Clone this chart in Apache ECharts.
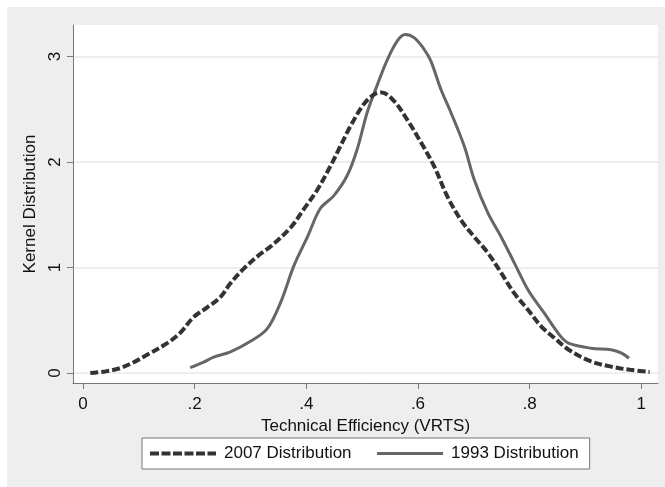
<!DOCTYPE html>
<html><head><meta charset="utf-8">
<script src="https://cdn.jsdelivr.net/npm/echarts@6/dist/echarts.min.js"></script>
<style>html,body{margin:0;padding:0;background:#fff}#c{width:665px;height:487px}</style>
</head><body><div id="c"></div>
<script>
const xTickValues = [0, 0.2, 0.4, 0.6, 0.8, 1];
const xTickLabels = ['0', '.2', '.4', '.6', '.8', '1'];
const yTickValues = [0, 1, 2, 3];
const yTickLabels = ['0', '1', '2', '3'];

const x2007 = [0.013, 0.04, 0.066, 0.09, 0.114, 0.15, 0.174, 0.198, 0.222, 0.246, 0.264, 0.288, 0.318, 0.336, 0.372, 0.395, 0.42, 0.443, 0.461, 0.479, 0.503, 0.521, 0.535, 0.557, 0.581, 0.605, 0.629, 0.653, 0.677, 0.701, 0.725, 0.749, 0.772, 0.797, 0.821, 0.845, 0.87, 0.91, 0.946, 0.98, 1.015];
const y2007 = [0.0, 0.015, 0.045, 0.1, 0.17, 0.28, 0.38, 0.53, 0.62, 0.72, 0.85, 0.99, 1.13, 1.2, 1.38, 1.55, 1.74, 1.96, 2.15, 2.34, 2.55, 2.64, 2.66, 2.58, 2.4, 2.19, 1.96, 1.67, 1.45, 1.29, 1.14, 0.95, 0.76, 0.6, 0.44, 0.33, 0.22, 0.11, 0.06, 0.03, 0.01];
const x1993 = [0.192, 0.215, 0.234, 0.264, 0.3, 0.33, 0.354, 0.378, 0.402, 0.425, 0.449, 0.473, 0.491, 0.509, 0.527, 0.545, 0.563, 0.577, 0.593, 0.611, 0.623, 0.641, 0.659, 0.683, 0.701, 0.725, 0.749, 0.773, 0.797, 0.826, 0.856, 0.871, 0.91, 0.946, 0.964, 0.978];
const y1993 = [0.05, 0.1, 0.15, 0.2, 0.3, 0.42, 0.67, 1.02, 1.29, 1.56, 1.68, 1.87, 2.12, 2.47, 2.73, 2.97, 3.15, 3.21, 3.18, 3.07, 2.96, 2.69, 2.47, 2.15, 1.83, 1.52, 1.29, 1.04, 0.79, 0.57, 0.345, 0.28, 0.235, 0.22, 0.19, 0.14];
const seriesNames = ['2007 Distribution', '1993 Distribution'];

const zip = (xs, ys) => xs.map((x, i) => [x, ys[i]]);
const FONT = 'Liberation Sans, Arial, sans-serif';
const FS = 17;
const dashStyle = {color: '#333333', width: 4, type: [8, 3], cap: 'butt'};
const solidStyle = {color: '#666666', width: 3, type: 'solid'};
const chart = echarts.init(document.getElementById('c'), null, {renderer: 'canvas'});
chart.setOption({
  backgroundColor: '#ffffff',
  animation: false,
  textStyle: {fontFamily: FONT},
  graphic: [{
    type: 'rect', left: 7, top: 7, z: -10, silent: true,
    shape: {width: 658, height: 480},
    style: {fill: '#eeeeee'}
  }],
  grid: {left: 73, top: 25, right: 7, bottom: 104, show: true, backgroundColor: '#ffffff', borderWidth: 0},
  legend: {
    left: 142, top: 438,
    padding: [7, 11, 7, 6],
    backgroundColor: '#ffffff', borderColor: '#777777', borderWidth: 1, borderRadius: 0,
    itemWidth: 66, itemHeight: 14, itemGap: 24,
    itemStyle: {opacity: 0},
    textStyle: {fontSize: FS, color: '#111', fontFamily: FONT, padding: [0, 0, 0, 3]},
    data: [
      {name: seriesNames[0], lineStyle: {color: '#333333', width: 4, type: [9, 2.5]}},
      {name: seriesNames[1], lineStyle: {color: '#666666', width: 3, type: 'solid'}}
    ]
  },
  xAxis: {
    type: 'value', min: -0.018, max: 1.03,
    name: 'Technical Efficiency (VRTS)', nameLocation: 'middle', nameGap: 25,
    nameTextStyle: {fontSize: FS, color: '#111', fontFamily: FONT},
    axisLine: {show: true, onZero: false, lineStyle: {color: '#777', width: 1}},
    axisTick: {show: true, length: 6, lineStyle: {color: '#777'}, customValues: xTickValues},
    axisLabel: {fontSize: FS, color: '#111', margin: 13, customValues: xTickValues,
      formatter: v => { const i = xTickValues.findIndex(t => Math.abs(t - v) < 1e-9); return i >= 0 ? xTickLabels[i] : ''; }},
    splitLine: {show: false}
  },
  yAxis: {
    type: 'value', min: -0.095, max: 3.3,
    name: 'Kernel Distribution', nameLocation: 'middle', nameGap: 25,
    nameTextStyle: {fontSize: FS, color: '#111', fontFamily: FONT},
    axisLine: {show: true, onZero: false, lineStyle: {color: '#777', width: 1}},
    axisTick: {show: true, length: 6, lineStyle: {color: '#777'}, customValues: yTickValues},
    axisLabel: {fontSize: FS, color: '#111', margin: 9, rotate: 90, customValues: yTickValues,
      formatter: v => { const i = yTickValues.findIndex(t => Math.abs(t - v) < 1e-9); return i >= 0 ? yTickLabels[i] : ''; }},
    splitLine: {show: true, lineStyle: {color: '#e8e8e8', width: 1.5}}
  },
  series: [
    {name: seriesNames[0], type: 'line', data: zip(x2007, y2007), smooth: 0.35, symbol: 'none', showSymbol: false,
     lineStyle: dashStyle, itemStyle: {color: '#333333'}, z: 3},
    {name: seriesNames[1], type: 'line', data: zip(x1993, y1993), smooth: 0.35, symbol: 'none', showSymbol: false,
     lineStyle: solidStyle, itemStyle: {color: '#666666'}, z: 2}
  ]
});
</script></body></html>
